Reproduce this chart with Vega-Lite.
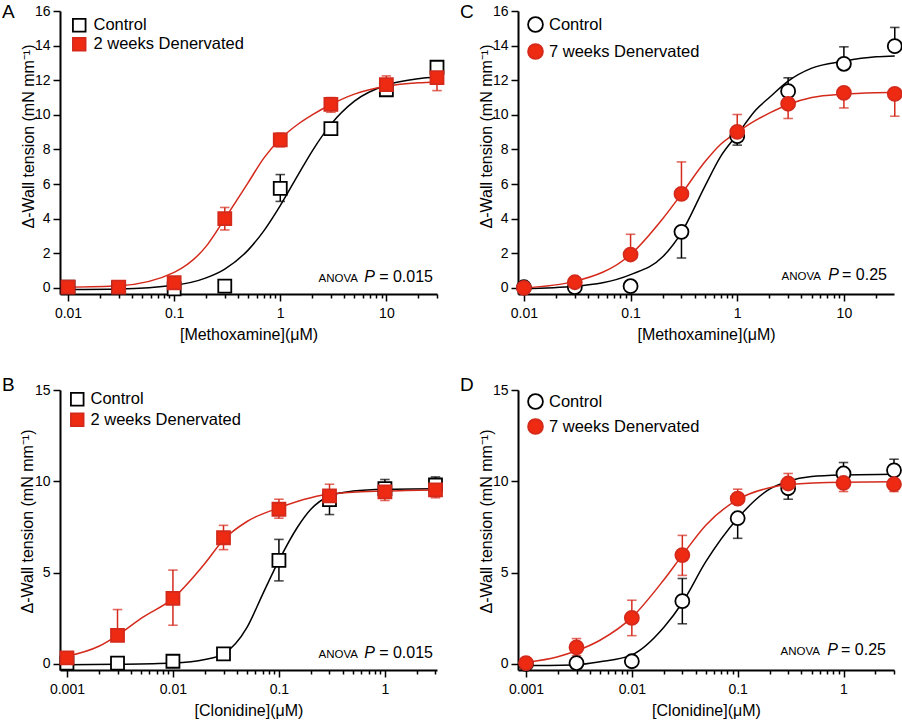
{
"$schema": "https://vega.github.io/schema/vega-lite/v6.json",
"background": "white",
"padding": {"left": 2, "top": 3, "right": 5, "bottom": 5},
"bounds": "flush",
"columns": 2,
"spacing": {"row": 96, "column": 81},
"resolve": {"scale": {"fill": "independent", "stroke": "independent", "color": "independent"}},
"datasets": {
"pts": [
{"p":"A","g":"Control","c":0.01,"v":0.05},{"p":"A","g":"Control","c":0.03,"v":0.02},{"p":"A","g":"Control","c":0.1,"v":-0.05},{"p":"A","g":"Control","c":0.3,"v":0.1},{"p":"A","g":"Control","c":1,"v":5.75},{"p":"A","g":"Control","c":3,"v":9.2},{"p":"A","g":"Control","c":10,"v":11.45},{"p":"A","g":"Control","c":30,"v":12.75},
{"p":"A","g":"2 weeks Denervated","c":0.01,"v":0.05},{"p":"A","g":"2 weeks Denervated","c":0.03,"v":0.05},{"p":"A","g":"2 weeks Denervated","c":0.1,"v":0.3},{"p":"A","g":"2 weeks Denervated","c":0.3,"v":4.0},{"p":"A","g":"2 weeks Denervated","c":1,"v":8.55},{"p":"A","g":"2 weeks Denervated","c":3,"v":10.6},{"p":"A","g":"2 weeks Denervated","c":10,"v":11.75},{"p":"A","g":"2 weeks Denervated","c":30,"v":12.15},
{"p":"C","g":"Control","c":0.01,"v":0.04},{"p":"C","g":"Control","c":0.03,"v":0.04},{"p":"C","g":"Control","c":0.1,"v":0.1},{"p":"C","g":"Control","c":0.3,"v":3.24},{"p":"C","g":"Control","c":1,"v":8.77},{"p":"C","g":"Control","c":3,"v":11.37},{"p":"C","g":"Control","c":10,"v":12.95},{"p":"C","g":"Control","c":30,"v":13.97},
{"p":"C","g":"7 weeks Denervated","c":0.01,"v":0.0},{"p":"C","g":"7 weeks Denervated","c":0.03,"v":0.33},{"p":"C","g":"7 weeks Denervated","c":0.1,"v":1.93},{"p":"C","g":"7 weeks Denervated","c":0.3,"v":5.43},{"p":"C","g":"7 weeks Denervated","c":1,"v":9.02},{"p":"C","g":"7 weeks Denervated","c":3,"v":10.64},{"p":"C","g":"7 weeks Denervated","c":10,"v":11.27},{"p":"C","g":"7 weeks Denervated","c":30,"v":11.21},
{"p":"B","g":"Control","c":0.001,"v":0.05},{"p":"B","g":"Control","c":0.003,"v":0.05},{"p":"B","g":"Control","c":0.01,"v":0.15},{"p":"B","g":"Control","c":0.03,"v":0.55},{"p":"B","g":"Control","c":0.1,"v":5.67},{"p":"B","g":"Control","c":0.3,"v":9.0},{"p":"B","g":"Control","c":1,"v":9.6},{"p":"B","g":"Control","c":3,"v":9.8},
{"p":"B","g":"2 weeks Denervated","c":0.001,"v":0.33},{"p":"B","g":"2 weeks Denervated","c":0.003,"v":1.57},{"p":"B","g":"2 weeks Denervated","c":0.01,"v":3.59},{"p":"B","g":"2 weeks Denervated","c":0.03,"v":6.91},{"p":"B","g":"2 weeks Denervated","c":0.1,"v":8.47},{"p":"B","g":"2 weeks Denervated","c":0.3,"v":9.2},{"p":"B","g":"2 weeks Denervated","c":1,"v":9.42},{"p":"B","g":"2 weeks Denervated","c":3,"v":9.53},
{"p":"D","g":"Control","c":0.001,"v":0.0},{"p":"D","g":"Control","c":0.003,"v":0.05},{"p":"D","g":"Control","c":0.01,"v":0.15},{"p":"D","g":"Control","c":0.03,"v":3.44},{"p":"D","g":"Control","c":0.1,"v":7.98},{"p":"D","g":"Control","c":0.3,"v":9.62},{"p":"D","g":"Control","c":1,"v":10.43},{"p":"D","g":"Control","c":3,"v":10.6},
{"p":"D","g":"7 weeks Denervated","c":0.001,"v":0.05},{"p":"D","g":"7 weeks Denervated","c":0.003,"v":0.91},{"p":"D","g":"7 weeks Denervated","c":0.01,"v":2.52},{"p":"D","g":"7 weeks Denervated","c":0.03,"v":5.96},{"p":"D","g":"7 weeks Denervated","c":0.1,"v":9.05},{"p":"D","g":"7 weeks Denervated","c":0.3,"v":9.88},{"p":"D","g":"7 weeks Denervated","c":1,"v":9.91},{"p":"D","g":"7 weeks Denervated","c":3,"v":9.84}
],
"errs": [
{"p":"A","g":"Control","c":1,"lo":5.0,"hi":6.55},
{"p":"A","g":"2 weeks Denervated","c":0.3,"lo":3.35,"hi":4.65},{"p":"A","g":"2 weeks Denervated","c":1,"lo":8.15,"hi":8.95},{"p":"A","g":"2 weeks Denervated","c":3,"lo":10.15,"hi":11.0},{"p":"A","g":"2 weeks Denervated","c":10,"lo":11.75,"hi":12.25},{"p":"A","g":"2 weeks Denervated","c":30,"lo":11.4,"hi":12.15},
{"p":"C","g":"7 weeks Denervated","c":0.1,"lo":1.93,"hi":3.1},{"p":"C","g":"7 weeks Denervated","c":0.3,"lo":5.43,"hi":7.28},{"p":"C","g":"Control","c":0.3,"lo":1.73,"hi":3.24},{"p":"C","g":"7 weeks Denervated","c":1,"lo":9.02,"hi":10.02},{"p":"C","g":"Control","c":1,"lo":8.25,"hi":8.77},{"p":"C","g":"Control","c":3,"lo":11.37,"hi":12.14},{"p":"C","g":"7 weeks Denervated","c":3,"lo":9.79,"hi":10.64},{"p":"C","g":"Control","c":10,"lo":12.95,"hi":13.93},{"p":"C","g":"7 weeks Denervated","c":10,"lo":10.4,"hi":11.27},{"p":"C","g":"Control","c":30,"lo":13.97,"hi":15.05},{"p":"C","g":"7 weeks Denervated","c":30,"lo":9.92,"hi":11.21},
{"p":"B","g":"2 weeks Denervated","c":0.003,"lo":1.57,"hi":2.98},{"p":"B","g":"2 weeks Denervated","c":0.01,"lo":2.12,"hi":5.14},{"p":"B","g":"2 weeks Denervated","c":0.03,"lo":6.26,"hi":7.59},{"p":"B","g":"2 weeks Denervated","c":0.1,"lo":7.98,"hi":9.02},{"p":"B","g":"Control","c":0.1,"lo":4.55,"hi":6.82},{"p":"B","g":"Control","c":0.3,"lo":8.18,"hi":9.0},{"p":"B","g":"2 weeks Denervated","c":0.3,"lo":9.2,"hi":9.84},{"p":"B","g":"Control","c":1,"lo":9.6,"hi":10.1},{"p":"B","g":"2 weeks Denervated","c":1,"lo":8.95,"hi":9.42},{"p":"B","g":"Control","c":3,"lo":9.8,"hi":10.24},{"p":"B","g":"2 weeks Denervated","c":3,"lo":9.1,"hi":9.53},
{"p":"D","g":"7 weeks Denervated","c":0.003,"lo":0.45,"hi":1.39},{"p":"D","g":"7 weeks Denervated","c":0.01,"lo":1.55,"hi":3.49},{"p":"D","g":"7 weeks Denervated","c":0.03,"lo":4.85,"hi":7.04},{"p":"D","g":"Control","c":0.03,"lo":2.2,"hi":4.68},{"p":"D","g":"7 weeks Denervated","c":0.1,"lo":9.05,"hi":9.57},{"p":"D","g":"Control","c":0.1,"lo":6.88,"hi":7.98},{"p":"D","g":"Control","c":0.3,"lo":9.02,"hi":9.62},{"p":"D","g":"7 weeks Denervated","c":0.3,"lo":9.88,"hi":10.43},{"p":"D","g":"Control","c":1,"lo":10.43,"hi":11.03},{"p":"D","g":"7 weeks Denervated","c":1,"lo":9.44,"hi":9.91},{"p":"D","g":"Control","c":3,"lo":10.6,"hi":11.21},{"p":"D","g":"7 weeks Denervated","c":3,"lo":9.44,"hi":9.84}
],
"curves": [
{"p":"A","g":"Control","c":0.01,"v":-0.09},{"p":"A","g":"Control","c":0.03,"v":-0.06},{"p":"A","g":"Control","c":0.1,"v":0.15},{"p":"A","g":"Control","c":0.2,"v":0.58},{"p":"A","g":"Control","c":0.3,"v":1.09},{"p":"A","g":"Control","c":0.5,"v":2.2},{"p":"A","g":"Control","c":0.7,"v":3.3},{"p":"A","g":"Control","c":1,"v":4.76},{"p":"A","g":"Control","c":1.5,"v":6.62},{"p":"A","g":"Control","c":2,"v":7.91},{"p":"A","g":"Control","c":3,"v":9.45},{"p":"A","g":"Control","c":5,"v":10.79},{"p":"A","g":"Control","c":10,"v":11.72},{"p":"A","g":"Control","c":20,"v":12.09},{"p":"A","g":"Control","c":30,"v":12.18},
{"p":"A","g":"2 weeks Denervated","c":0.01,"v":0.04},{"p":"A","g":"2 weeks Denervated","c":0.03,"v":0.12},{"p":"A","g":"2 weeks Denervated","c":0.1,"v":0.9},{"p":"A","g":"2 weeks Denervated","c":0.2,"v":2.4},{"p":"A","g":"2 weeks Denervated","c":0.3,"v":4.0},{"p":"A","g":"2 weeks Denervated","c":0.5,"v":6.1},{"p":"A","g":"2 weeks Denervated","c":0.7,"v":7.5},{"p":"A","g":"2 weeks Denervated","c":1,"v":8.6},{"p":"A","g":"2 weeks Denervated","c":1.5,"v":9.5},{"p":"A","g":"2 weeks Denervated","c":2,"v":10.0},{"p":"A","g":"2 weeks Denervated","c":3,"v":10.6},{"p":"A","g":"2 weeks Denervated","c":5,"v":11.2},{"p":"A","g":"2 weeks Denervated","c":10,"v":11.65},{"p":"A","g":"2 weeks Denervated","c":20,"v":11.85},{"p":"A","g":"2 weeks Denervated","c":30,"v":11.9},
{"p":"C","g":"Control","c":0.01,"v":-0.04},{"p":"C","g":"Control","c":0.03,"v":0.1},{"p":"C","g":"Control","c":0.1,"v":0.77},{"p":"C","g":"Control","c":0.2,"v":1.8},{"p":"C","g":"Control","c":0.3,"v":3.2},{"p":"C","g":"Control","c":0.5,"v":5.9},{"p":"C","g":"Control","c":0.7,"v":7.6},{"p":"C","g":"Control","c":1,"v":8.86},{"p":"C","g":"Control","c":1.5,"v":10.3},{"p":"C","g":"Control","c":2,"v":11.0},{"p":"C","g":"Control","c":3,"v":11.95},{"p":"C","g":"Control","c":5,"v":12.7},{"p":"C","g":"Control","c":10,"v":13.1},{"p":"C","g":"Control","c":20,"v":13.35},{"p":"C","g":"Control","c":30,"v":13.4},
{"p":"C","g":"7 weeks Denervated","c":0.01,"v":0.0},{"p":"C","g":"7 weeks Denervated","c":0.03,"v":0.38},{"p":"C","g":"7 weeks Denervated","c":0.1,"v":1.93},{"p":"C","g":"7 weeks Denervated","c":0.2,"v":4.0},{"p":"C","g":"7 weeks Denervated","c":0.3,"v":5.43},{"p":"C","g":"7 weeks Denervated","c":0.5,"v":7.3},{"p":"C","g":"7 weeks Denervated","c":0.7,"v":8.3},{"p":"C","g":"7 weeks Denervated","c":1,"v":9.0},{"p":"C","g":"7 weeks Denervated","c":1.5,"v":9.7},{"p":"C","g":"7 weeks Denervated","c":2,"v":10.1},{"p":"C","g":"7 weeks Denervated","c":3,"v":10.6},{"p":"C","g":"7 weeks Denervated","c":5,"v":11.0},{"p":"C","g":"7 weeks Denervated","c":10,"v":11.2},{"p":"C","g":"7 weeks Denervated","c":20,"v":11.28},{"p":"C","g":"7 weeks Denervated","c":30,"v":11.3},
{"p":"B","g":"Control","c":0.001,"v":-0.04},{"p":"B","g":"Control","c":0.003,"v":-0.02},{"p":"B","g":"Control","c":0.01,"v":0.05},{"p":"B","g":"Control","c":0.02,"v":0.24},{"p":"B","g":"Control","c":0.03,"v":0.55},{"p":"B","g":"Control","c":0.05,"v":2.0},{"p":"B","g":"Control","c":0.07,"v":3.8},{"p":"B","g":"Control","c":0.1,"v":5.67},{"p":"B","g":"Control","c":0.15,"v":7.5},{"p":"B","g":"Control","c":0.2,"v":8.47},{"p":"B","g":"Control","c":0.3,"v":9.2},{"p":"B","g":"Control","c":0.5,"v":9.47},{"p":"B","g":"Control","c":1,"v":9.57},{"p":"B","g":"Control","c":3,"v":9.6},
{"p":"B","g":"2 weeks Denervated","c":0.001,"v":0.42},{"p":"B","g":"2 weeks Denervated","c":0.002,"v":0.97},{"p":"B","g":"2 weeks Denervated","c":0.003,"v":1.57},{"p":"B","g":"2 weeks Denervated","c":0.005,"v":2.5},{"p":"B","g":"2 weeks Denervated","c":0.01,"v":3.59},{"p":"B","g":"2 weeks Denervated","c":0.02,"v":5.5},{"p":"B","g":"2 weeks Denervated","c":0.03,"v":6.8},{"p":"B","g":"2 weeks Denervated","c":0.05,"v":7.8},{"p":"B","g":"2 weeks Denervated","c":0.1,"v":8.55},{"p":"B","g":"2 weeks Denervated","c":0.2,"v":9.1},{"p":"B","g":"2 weeks Denervated","c":0.3,"v":9.3},{"p":"B","g":"2 weeks Denervated","c":1,"v":9.47},{"p":"B","g":"2 weeks Denervated","c":3,"v":9.53},
{"p":"D","g":"Control","c":0.001,"v":-0.09},{"p":"D","g":"Control","c":0.003,"v":-0.04},{"p":"D","g":"Control","c":0.005,"v":0.12},{"p":"D","g":"Control","c":0.01,"v":0.5},{"p":"D","g":"Control","c":0.02,"v":2.0},{"p":"D","g":"Control","c":0.03,"v":3.35},{"p":"D","g":"Control","c":0.05,"v":5.6},{"p":"D","g":"Control","c":0.1,"v":7.98},{"p":"D","g":"Control","c":0.2,"v":9.57},{"p":"D","g":"Control","c":0.3,"v":10.0},{"p":"D","g":"Control","c":0.5,"v":10.26},{"p":"D","g":"Control","c":1,"v":10.35},{"p":"D","g":"Control","c":3,"v":10.39},
{"p":"D","g":"7 weeks Denervated","c":0.001,"v":0.08},{"p":"D","g":"7 weeks Denervated","c":0.002,"v":0.4},{"p":"D","g":"7 weeks Denervated","c":0.003,"v":0.72},{"p":"D","g":"7 weeks Denervated","c":0.005,"v":1.3},{"p":"D","g":"7 weeks Denervated","c":0.01,"v":2.55},{"p":"D","g":"7 weeks Denervated","c":0.02,"v":4.6},{"p":"D","g":"7 weeks Denervated","c":0.03,"v":5.96},{"p":"D","g":"7 weeks Denervated","c":0.05,"v":7.6},{"p":"D","g":"7 weeks Denervated","c":0.1,"v":9.0},{"p":"D","g":"7 weeks Denervated","c":0.2,"v":9.65},{"p":"D","g":"7 weeks Denervated","c":0.3,"v":9.82},{"p":"D","g":"7 weeks Denervated","c":1,"v":9.95},{"p":"D","g":"7 weeks Denervated","c":3,"v":9.97}
]
},
"concat": [
{
"width": 377, "height": 283,
"title": {"text": "A", "anchor": "start", "frame": "group", "dx": -58, "offset": -18},
"layer": [
{
"encoding": {
"x": {"field": "c", "type": "quantitative", "scale": {"type": "log", "domain": [0.0084, 30], "nice": false}, "axis": {"values": [0.01,0.02,0.03,0.04,0.05,0.06,0.07,0.08,0.09,0.1,0.2,0.3,0.4,0.5,0.6,0.7,0.8,0.9,1,2,3,4,5,6,7,8,9,10,20,30], "labelExpr": "abs(log(datum.value)/LN10 - round(log(datum.value)/LN10)) < 0.01 ? format(datum.value, '~g') : ''", "tickSize": {"condition": {"test": "abs(log(datum.value)/LN10 - round(log(datum.value)/LN10)) < 0.01", "value": 7}, "value": 4}, "title": "[Methoxamine](μM)", "labelOverlap": false, "labelFlush": false, "labelPadding": 5, "titlePadding": 6}},
"y": {"field": "v", "type": "quantitative", "scale": {"domain": [-0.35, 16], "nice": false, "zero": false}, "axis": {"values": [0,2,4,6,8,10,12,14,16], "title": "Δ-Wall tension (mN mm⁻¹)", "titleX": -24, "titleY": 125}},
"stroke": {"field": "g", "type": "nominal", "scale": {"domain": ["Control", "2 weeks Denervated"], "range": ["#000000", "#d42a1c"]}, "legend": {"title": null, "orient": "none", "legendX": 11, "legendY": 6, "symbolType": "square", "symbolSize": 160, "symbolStrokeWidth": 1.8, "labelFontSize": 16.5, "rowPadding": -2, "labelOffset": 6, "padding": 0}}
},
"layer": [
{"data": {"name": "curves"}, "transform": [{"filter": "datum.p == 'A'"}], "mark": {"type": "line", "interpolate": "monotone", "strokeWidth": 1.5}},
{"data": {"name": "errs"}, "transform": [{"filter": "datum.p == 'A'"}], "mark": {"type": "rule", "strokeWidth": 1.5},
 "encoding": {"y": {"field": "lo", "type": "quantitative"}, "y2": {"field": "hi"}}},
{"data": {"name": "errs"}, "transform": [{"filter": "datum.p == 'A'"}], "mark": {"type": "tick", "orient": "horizontal", "size": 8, "thickness": 0.1, "strokeWidth": 1.5, "filled": false},
 "encoding": {"y": {"field": "hi", "type": "quantitative"}}},
{"data": {"name": "errs"}, "transform": [{"filter": "datum.p == 'A'"}], "mark": {"type": "tick", "orient": "horizontal", "size": 8, "thickness": 0.1, "strokeWidth": 1.5, "filled": false},
 "encoding": {"y": {"field": "lo", "type": "quantitative"}}},
{"data": {"name": "pts"}, "transform": [{"filter": "datum.p == 'A'"}], "mark": {"type": "square", "size": 169, "strokeWidth": 1.8, "opacity": 1},
 "encoding": {"fill": {"field": "g", "type": "nominal", "scale": {"domain": ["Control", "2 weeks Denervated"], "range": ["#ffffff", "#ee2b12"]}, "legend": {"title": null, "orient": "none", "legendX": 11, "legendY": 6, "symbolType": "square", "symbolSize": 160, "symbolStrokeWidth": 1.8, "labelFontSize": 16.5, "rowPadding": -2, "labelOffset": 6, "padding": 0}}}}
]
},
{
"data": {"values": [{"eq": "= 0.015", "pp": "P", "an": "ANOVA"}]},
"encoding": {
"x": {"datum": 30, "type": "quantitative", "scale": {"type": "log", "domain": [0.0084, 30], "nice": false}, "axis": {"values": [0.01,0.02,0.03,0.04,0.05,0.06,0.07,0.08,0.09,0.1,0.2,0.3,0.4,0.5,0.6,0.7,0.8,0.9,1,2,3,4,5,6,7,8,9,10,20,30], "labelExpr": "abs(log(datum.value)/LN10 - round(log(datum.value)/LN10)) < 0.01 ? format(datum.value, '~g') : ''", "tickSize": {"condition": {"test": "abs(log(datum.value)/LN10 - round(log(datum.value)/LN10)) < 0.01", "value": 7}, "value": 4}, "title": "[Methoxamine](μM)", "labelOverlap": false, "labelFlush": false, "labelPadding": 5, "titlePadding": 6}},
"y": {"datum": 0.33, "type": "quantitative", "scale": {"domain": [-0.35, 16], "nice": false, "zero": false}, "axis": {"values": [0,2,4,6,8,10,12,14,16], "title": "Δ-Wall tension (mN mm⁻¹)", "titleX": -24, "titleY": 125}}
},
"layer": [
{"mark": {"type": "text", "align": "right", "baseline": "alphabetic", "fontSize": 16, "dx": -4}, "encoding": {"text": {"field": "eq", "type": "nominal"}}},
{"mark": {"type": "text", "align": "right", "baseline": "alphabetic", "fontSize": 16, "fontStyle": "italic", "dx": -62}, "encoding": {"text": {"field": "pp", "type": "nominal"}}},
{"mark": {"type": "text", "align": "right", "baseline": "alphabetic", "fontSize": 11.5, "dx": -79}, "encoding": {"text": {"field": "an", "type": "nominal"}}}
]
}
]
},
{
"width": 376, "height": 283,
"title": {"text": "C", "anchor": "start", "frame": "group", "dx": -58, "offset": -18},
"layer": [
{
"encoding": {
"x": {"field": "c", "type": "quantitative", "scale": {"type": "log", "domain": [0.0088, 29.5], "nice": false}, "axis": {"values": [0.01,0.02,0.03,0.04,0.05,0.06,0.07,0.08,0.09,0.1,0.2,0.3,0.4,0.5,0.6,0.7,0.8,0.9,1,2,3,4,5,6,7,8,9,10,20], "labelExpr": "abs(log(datum.value)/LN10 - round(log(datum.value)/LN10)) < 0.01 ? format(datum.value, '~g') : ''", "tickSize": {"condition": {"test": "abs(log(datum.value)/LN10 - round(log(datum.value)/LN10)) < 0.01", "value": 7}, "value": 4}, "title": "[Methoxamine](μM)", "labelOverlap": false, "labelFlush": false, "labelPadding": 5, "titlePadding": 6}},
"y": {"field": "v", "type": "quantitative", "scale": {"domain": [-0.35, 16], "nice": false, "zero": false}, "axis": {"values": [0,2,4,6,8,10,12,14,16], "title": "Δ-Wall tension (mN mm⁻¹)", "titleX": -24, "titleY": 125}},
"stroke": {"field": "g", "type": "nominal", "scale": {"domain": ["Control", "7 weeks Denervated"], "range": ["#000000", "#d42a1c"]}, "legend": {"title": null, "orient": "none", "legendX": 9, "legendY": 5, "symbolType": "circle", "symbolSize": 220, "symbolStrokeWidth": 1.8, "labelFontSize": 16.5, "rowPadding": 4, "labelOffset": 5, "padding": 0}}
},
"layer": [
{"data": {"name": "curves"}, "transform": [{"filter": "datum.p == 'C'"}], "mark": {"type": "line", "interpolate": "monotone", "strokeWidth": 1.5}},
{"data": {"name": "errs"}, "transform": [{"filter": "datum.p == 'C'"}], "mark": {"type": "rule", "strokeWidth": 1.5},
 "encoding": {"y": {"field": "lo", "type": "quantitative"}, "y2": {"field": "hi"}}},
{"data": {"name": "errs"}, "transform": [{"filter": "datum.p == 'C'"}], "mark": {"type": "tick", "orient": "horizontal", "size": 8, "thickness": 0.1, "strokeWidth": 1.5, "filled": false},
 "encoding": {"y": {"field": "hi", "type": "quantitative"}}},
{"data": {"name": "errs"}, "transform": [{"filter": "datum.p == 'C'"}], "mark": {"type": "tick", "orient": "horizontal", "size": 8, "thickness": 0.1, "strokeWidth": 1.5, "filled": false},
 "encoding": {"y": {"field": "lo", "type": "quantitative"}}},
{"data": {"name": "pts"}, "transform": [{"filter": "datum.p == 'C'"}], "mark": {"type": "circle", "size": 196, "strokeWidth": 1.8, "opacity": 1},
 "encoding": {"fill": {"field": "g", "type": "nominal", "scale": {"domain": ["Control", "7 weeks Denervated"], "range": ["#ffffff", "#ee2b12"]}, "legend": {"title": null, "orient": "none", "legendX": 9, "legendY": 5, "symbolType": "circle", "symbolSize": 220, "symbolStrokeWidth": 1.8, "labelFontSize": 16.5, "rowPadding": 4, "labelOffset": 5, "padding": 0}}}}
]
},
{
"data": {"values": [{"eq": "= 0.25", "pp": "P", "an": "ANOVA"}]},
"encoding": {
"x": {"datum": 29.5, "type": "quantitative", "scale": {"type": "log", "domain": [0.0088, 29.5], "nice": false}, "axis": {"values": [0.01,0.02,0.03,0.04,0.05,0.06,0.07,0.08,0.09,0.1,0.2,0.3,0.4,0.5,0.6,0.7,0.8,0.9,1,2,3,4,5,6,7,8,9,10,20], "labelExpr": "abs(log(datum.value)/LN10 - round(log(datum.value)/LN10)) < 0.01 ? format(datum.value, '~g') : ''", "tickSize": {"condition": {"test": "abs(log(datum.value)/LN10 - round(log(datum.value)/LN10)) < 0.01", "value": 7}, "value": 4}, "title": "[Methoxamine](μM)", "labelOverlap": false, "labelFlush": false, "labelPadding": 5, "titlePadding": 6}},
"y": {"datum": 0.48, "type": "quantitative", "scale": {"domain": [-0.35, 16], "nice": false, "zero": false}, "axis": {"values": [0,2,4,6,8,10,12,14,16], "title": "Δ-Wall tension (mN mm⁻¹)", "titleX": -24, "titleY": 125}}
},
"layer": [
{"mark": {"type": "text", "align": "right", "baseline": "alphabetic", "fontSize": 16, "dx": -7}, "encoding": {"text": {"field": "eq", "type": "nominal"}}},
{"mark": {"type": "text", "align": "right", "baseline": "alphabetic", "fontSize": 16, "fontStyle": "italic", "dx": -55}, "encoding": {"text": {"field": "pp", "type": "nominal"}}},
{"mark": {"type": "text", "align": "right", "baseline": "alphabetic", "fontSize": 11.5, "dx": -73}, "encoding": {"text": {"field": "an", "type": "nominal"}}}
]
}
]
},
{
"width": 377, "height": 280,
"title": {"text": "B", "anchor": "start", "frame": "group", "dx": -58, "offset": -12},
"layer": [
{
"encoding": {
"x": {"field": "c", "type": "quantitative", "scale": {"type": "log", "domain": [0.00086, 3.1], "nice": false}, "axis": {"values": [0.001,0.002,0.003,0.004,0.005,0.006,0.007,0.008,0.009,0.01,0.02,0.03,0.04,0.05,0.06,0.07,0.08,0.09,0.1,0.2,0.3,0.4,0.5,0.6,0.7,0.8,0.9,1,2,3], "labelExpr": "abs(log(datum.value)/LN10 - round(log(datum.value)/LN10)) < 0.01 ? format(datum.value, '~g') : ''", "tickSize": {"condition": {"test": "abs(log(datum.value)/LN10 - round(log(datum.value)/LN10)) < 0.01", "value": 7}, "value": 4}, "title": "[Clonidine](μM)", "labelOverlap": false, "labelFlush": false, "labelPadding": 5, "titlePadding": 6}},
"y": {"field": "v", "type": "quantitative", "scale": {"domain": [-0.33, 15], "nice": false, "zero": false}, "axis": {"values": [0,5,10,15], "title": "Δ-Wall tension (mN mm⁻¹)", "titleX": -25, "titleY": 131}},
"stroke": {"field": "g", "type": "nominal", "scale": {"domain": ["Control", "2 weeks Denervated"], "range": ["#000000", "#d42a1c"]}, "legend": {"title": null, "orient": "none", "legendX": 9, "legendY": 1, "symbolType": "square", "symbolSize": 160, "symbolStrokeWidth": 1.8, "labelFontSize": 16.5, "rowPadding": -0.5, "labelOffset": 5, "padding": 0}}
},
"layer": [
{"data": {"name": "curves"}, "transform": [{"filter": "datum.p == 'B'"}], "mark": {"type": "line", "interpolate": "monotone", "strokeWidth": 1.5}},
{"data": {"name": "errs"}, "transform": [{"filter": "datum.p == 'B'"}], "mark": {"type": "rule", "strokeWidth": 1.5},
 "encoding": {"y": {"field": "lo", "type": "quantitative"}, "y2": {"field": "hi"}}},
{"data": {"name": "errs"}, "transform": [{"filter": "datum.p == 'B'"}], "mark": {"type": "tick", "orient": "horizontal", "size": 8, "thickness": 0.1, "strokeWidth": 1.5, "filled": false},
 "encoding": {"y": {"field": "hi", "type": "quantitative"}}},
{"data": {"name": "errs"}, "transform": [{"filter": "datum.p == 'B'"}], "mark": {"type": "tick", "orient": "horizontal", "size": 8, "thickness": 0.1, "strokeWidth": 1.5, "filled": false},
 "encoding": {"y": {"field": "lo", "type": "quantitative"}}},
{"data": {"name": "pts"}, "transform": [{"filter": "datum.p == 'B'"}], "mark": {"type": "square", "size": 169, "strokeWidth": 1.8, "opacity": 1},
 "encoding": {"fill": {"field": "g", "type": "nominal", "scale": {"domain": ["Control", "2 weeks Denervated"], "range": ["#ffffff", "#ee2b12"]}, "legend": {"title": null, "orient": "none", "legendX": 9, "legendY": 1, "symbolType": "square", "symbolSize": 160, "symbolStrokeWidth": 1.8, "labelFontSize": 16.5, "rowPadding": -0.5, "labelOffset": 5, "padding": 0}}}}
]
},
{
"data": {"values": [{"eq": "= 0.015", "pp": "P", "an": "ANOVA"}]},
"encoding": {
"x": {"datum": 3.1, "type": "quantitative", "scale": {"type": "log", "domain": [0.00086, 3.1], "nice": false}, "axis": {"values": [0.001,0.002,0.003,0.004,0.005,0.006,0.007,0.008,0.009,0.01,0.02,0.03,0.04,0.05,0.06,0.07,0.08,0.09,0.1,0.2,0.3,0.4,0.5,0.6,0.7,0.8,0.9,1,2,3], "labelExpr": "abs(log(datum.value)/LN10 - round(log(datum.value)/LN10)) < 0.01 ? format(datum.value, '~g') : ''", "tickSize": {"condition": {"test": "abs(log(datum.value)/LN10 - round(log(datum.value)/LN10)) < 0.01", "value": 7}, "value": 4}, "title": "[Clonidine](μM)", "labelOverlap": false, "labelFlush": false, "labelPadding": 5, "titlePadding": 6}},
"y": {"datum": 0.33, "type": "quantitative", "scale": {"domain": [-0.33, 15], "nice": false, "zero": false}, "axis": {"values": [0,5,10,15], "title": "Δ-Wall tension (mN mm⁻¹)", "titleX": -25, "titleY": 131}}
},
"layer": [
{"mark": {"type": "text", "align": "right", "baseline": "alphabetic", "fontSize": 16, "dx": -4}, "encoding": {"text": {"field": "eq", "type": "nominal"}}},
{"mark": {"type": "text", "align": "right", "baseline": "alphabetic", "fontSize": 16, "fontStyle": "italic", "dx": -62}, "encoding": {"text": {"field": "pp", "type": "nominal"}}},
{"mark": {"type": "text", "align": "right", "baseline": "alphabetic", "fontSize": 11.5, "dx": -79}, "encoding": {"text": {"field": "an", "type": "nominal"}}}
]
}
]
},
{
"width": 376, "height": 280,
"title": {"text": "D", "anchor": "start", "frame": "group", "dx": -58, "offset": -12},
"layer": [
{
"encoding": {
"x": {"field": "c", "type": "quantitative", "scale": {"type": "log", "domain": [0.00084, 3.0], "nice": false}, "axis": {"values": [0.001,0.002,0.003,0.004,0.005,0.006,0.007,0.008,0.009,0.01,0.02,0.03,0.04,0.05,0.06,0.07,0.08,0.09,0.1,0.2,0.3,0.4,0.5,0.6,0.7,0.8,0.9,1,2,3], "labelExpr": "abs(log(datum.value)/LN10 - round(log(datum.value)/LN10)) < 0.01 ? format(datum.value, '~g') : ''", "tickSize": {"condition": {"test": "abs(log(datum.value)/LN10 - round(log(datum.value)/LN10)) < 0.01", "value": 7}, "value": 4}, "title": "[Clonidine](μM)", "labelOverlap": false, "labelFlush": false, "labelPadding": 5, "titlePadding": 6}},
"y": {"field": "v", "type": "quantitative", "scale": {"domain": [-0.33, 15], "nice": false, "zero": false}, "axis": {"values": [0,5,10,15], "title": "Δ-Wall tension (mN mm⁻¹)", "titleX": -24, "titleY": 131}},
"stroke": {"field": "g", "type": "nominal", "scale": {"domain": ["Control", "7 weeks Denervated"], "range": ["#000000", "#d42a1c"]}, "legend": {"title": null, "orient": "none", "legendX": 9, "legendY": 3, "symbolType": "circle", "symbolSize": 220, "symbolStrokeWidth": 1.8, "labelFontSize": 16.5, "rowPadding": 2, "labelOffset": 5, "padding": 0}}
},
"layer": [
{"data": {"name": "curves"}, "transform": [{"filter": "datum.p == 'D'"}], "mark": {"type": "line", "interpolate": "monotone", "strokeWidth": 1.5}},
{"data": {"name": "errs"}, "transform": [{"filter": "datum.p == 'D'"}], "mark": {"type": "rule", "strokeWidth": 1.5},
 "encoding": {"y": {"field": "lo", "type": "quantitative"}, "y2": {"field": "hi"}}},
{"data": {"name": "errs"}, "transform": [{"filter": "datum.p == 'D'"}], "mark": {"type": "tick", "orient": "horizontal", "size": 8, "thickness": 0.1, "strokeWidth": 1.5, "filled": false},
 "encoding": {"y": {"field": "hi", "type": "quantitative"}}},
{"data": {"name": "errs"}, "transform": [{"filter": "datum.p == 'D'"}], "mark": {"type": "tick", "orient": "horizontal", "size": 8, "thickness": 0.1, "strokeWidth": 1.5, "filled": false},
 "encoding": {"y": {"field": "lo", "type": "quantitative"}}},
{"data": {"name": "pts"}, "transform": [{"filter": "datum.p == 'D'"}], "mark": {"type": "circle", "size": 196, "strokeWidth": 1.8, "opacity": 1},
 "encoding": {"fill": {"field": "g", "type": "nominal", "scale": {"domain": ["Control", "7 weeks Denervated"], "range": ["#ffffff", "#ee2b12"]}, "legend": {"title": null, "orient": "none", "legendX": 9, "legendY": 3, "symbolType": "circle", "symbolSize": 220, "symbolStrokeWidth": 1.8, "labelFontSize": 16.5, "rowPadding": 2, "labelOffset": 5, "padding": 0}}}}
]
},
{
"data": {"values": [{"eq": "= 0.25", "pp": "P", "an": "ANOVA"}]},
"encoding": {
"x": {"datum": 3.0, "type": "quantitative", "scale": {"type": "log", "domain": [0.00084, 3.0], "nice": false}, "axis": {"values": [0.001,0.002,0.003,0.004,0.005,0.006,0.007,0.008,0.009,0.01,0.02,0.03,0.04,0.05,0.06,0.07,0.08,0.09,0.1,0.2,0.3,0.4,0.5,0.6,0.7,0.8,0.9,1,2,3], "labelExpr": "abs(log(datum.value)/LN10 - round(log(datum.value)/LN10)) < 0.01 ? format(datum.value, '~g') : ''", "tickSize": {"condition": {"test": "abs(log(datum.value)/LN10 - round(log(datum.value)/LN10)) < 0.01", "value": 7}, "value": 4}, "title": "[Clonidine](μM)", "labelOverlap": false, "labelFlush": false, "labelPadding": 5, "titlePadding": 6}},
"y": {"datum": 0.51, "type": "quantitative", "scale": {"domain": [-0.33, 15], "nice": false, "zero": false}, "axis": {"values": [0,5,10,15], "title": "Δ-Wall tension (mN mm⁻¹)", "titleX": -24, "titleY": 131}}
},
"layer": [
{"mark": {"type": "text", "align": "right", "baseline": "alphabetic", "fontSize": 16, "dx": -8}, "encoding": {"text": {"field": "eq", "type": "nominal"}}},
{"mark": {"type": "text", "align": "right", "baseline": "alphabetic", "fontSize": 16, "fontStyle": "italic", "dx": -56}, "encoding": {"text": {"field": "pp", "type": "nominal"}}},
{"mark": {"type": "text", "align": "right", "baseline": "alphabetic", "fontSize": 11.5, "dx": -74}, "encoding": {"text": {"field": "an", "type": "nominal"}}}
]
}
]
}
],
"config": {
"font": "Liberation Sans",
"view": {"stroke": null},
"axis": {"domainColor": "#000000", "domainWidth": 2, "tickColor": "#000000", "tickWidth": 1.5, "tickSize": 7, "labelFontSize": 14, "labelColor": "#000000", "labelFont": "Liberation Sans", "titleFont": "Liberation Sans", "titleFontSize": 16, "titleFontWeight": "normal", "titleColor": "#000000", "grid": false, "labelPadding": 3},
"legend": {"labelFont": "Liberation Sans", "labelColor": "#000000", "symbolOpacity": 1},
"text": {"color": "#000000", "font": "Liberation Sans"},
"title": {"font": "Liberation Sans", "fontSize": 19, "fontWeight": "normal", "color": "#000000"}
}
}
